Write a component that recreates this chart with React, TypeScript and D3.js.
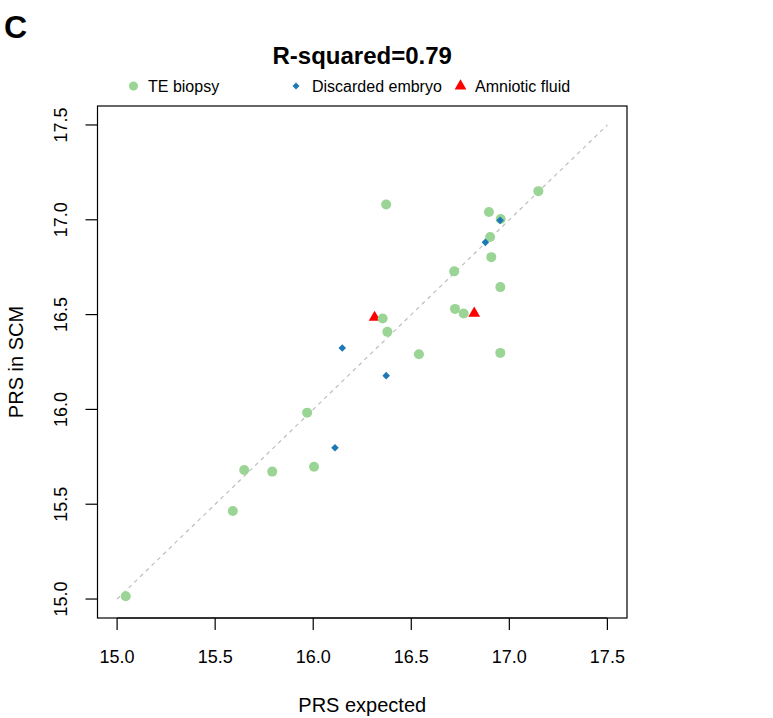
import React from "react";
import * as d3 from "d3";

const teX = [16.372, 17.148, 16.896, 16.956, 16.902, 16.908, 16.719, 16.954, 16.723, 16.767, 16.354, 16.378, 16.539, 16.954, 15.969, 15.648, 15.791, 16.004, 15.59, 15.044];
const teY = [17.081, 17.151, 17.041, 17.004, 16.909, 16.803, 16.728, 16.645, 16.53, 16.506, 16.479, 16.409, 16.291, 16.298, 15.983, 15.68, 15.672, 15.698, 15.464, 15.015];
const deX = [16.953, 16.878, 16.148, 16.372, 16.111];
const deY = [16.997, 16.881, 16.324, 16.178, 15.798];
const afX = [16.313, 16.821];
const afY = [16.485, 16.507];
const xTicks = [15.0, 15.5, 16.0, 16.5, 17.0, 17.5];
const yTicks = [15.0, 15.5, 16.0, 16.5, 17.0, 17.5];
const legendLabels = ["TE biopsy", "Discarded embryo", "Amniotic fluid"];
const refLine = [15, 17.5];

const GREEN = "#9AD595";
const BLUE = "#1F78B4";
const RED = "#FF0000";
const FONT = "Liberation Sans, Arial, sans-serif";

export default function App() {
  const W = 773, H = 718;
  const L = 97.5, R = 627, T = 106, B = 618;
  const x = d3.scaleLinear().domain([14.9, 17.6]).range([L, R]);
  const y = d3.scaleLinear().domain([14.9, 17.6]).range([B, T]);
  const tri = d3.symbol().type(d3.symbolTriangle).size(60)();
  const circ = (cx: number, cy: number, k: string) => (
    <circle key={k} cx={cx} cy={cy} r={5} fill={GREEN} />
  );
  const diamond = (cx: number, cy: number, k: string) => {
    const s = 3.8;
    return <path key={k} d={`M${cx},${cy - s}L${cx + s},${cy}L${cx},${cy + s}L${cx - s},${cy}Z`} fill={BLUE} />;
  };
  const triangle = (cx: number, cy: number, k: string) => (
    <path key={k} d={tri!} transform={`translate(${cx},${cy})`} fill={RED} />
  );
  return (
    <svg width={W} height={H} style={{ position: "absolute", left: 0, top: 0 }} fontFamily={FONT}>
      <rect width={W} height={H} fill="#fff" />
      <text x={4} y={38} fontSize={32} fontWeight="bold">C</text>
      <text x={(L + R) / 2} y={64} fontSize={24} fontWeight="bold" textAnchor="middle">R-squared=0.79</text>
      {/* legend */}
      <g fontSize={16}>
        <circle cx={133.5} cy={86} r={4.5} fill={GREEN} />
        <text x={148} y={91.5}>{legendLabels[0]}</text>
        <path d={`M296,82.5L299.5,86L296,89.5L292.5,86Z`} fill={BLUE} />
        <text x={312} y={91.5}>{legendLabels[1]}</text>
        <path d={tri!} transform="translate(460.5,86)" fill={RED} />
        <text x={475} y={91.5}>{legendLabels[2]}</text>
      </g>
      {/* reference line */}
      <line x1={x(refLine[0])} y1={y(refLine[0])} x2={x(refLine[1])} y2={y(refLine[1])} stroke="#BEBEBE" strokeWidth={1.2} strokeDasharray="4,4" />
      {/* points */}
      {afX.map((v, i) => triangle(x(v), y(afY[i]), "a" + i))}
      {teX.map((v, i) => circ(x(v), y(teY[i]), "t" + i))}
      {deX.map((v, i) => diamond(x(v), y(deY[i]), "d" + i))}
      {/* box */}
      <rect x={L} y={T} width={R - L} height={B - T} fill="none" stroke="#000" strokeWidth={1.2} />
      {/* x axis */}
      <g fontSize={18}>
        <line x1={x(xTicks[0])} x2={x(xTicks[xTicks.length - 1])} y1={B} y2={B} stroke="#000" strokeWidth={1.2} />
        {xTicks.map((t) => (
          <g key={"xt" + t}>
            <line x1={x(t)} x2={x(t)} y1={B} y2={B + 12} stroke="#000" strokeWidth={1.2} />
            <text x={x(t)} y={663} textAnchor="middle">{t.toFixed(1)}</text>
          </g>
        ))}
        {yTicks.map((t) => (
          <g key={"yt" + t}>
            <line x1={L - 12} x2={L} y1={y(t)} y2={y(t)} stroke="#000" strokeWidth={1.2} />
            <text transform={`translate(67,${y(t)}) rotate(-90)`} textAnchor="middle">{t.toFixed(1)}</text>
          </g>
        ))}
      </g>
      <text x={(L + R) / 2} y={711.5} fontSize={20} textAnchor="middle">PRS expected</text>
      <text transform={`translate(23,${(T + B) / 2}) rotate(-90)`} fontSize={20} textAnchor="middle">PRS in SCM</text>
    </svg>
  );
}
